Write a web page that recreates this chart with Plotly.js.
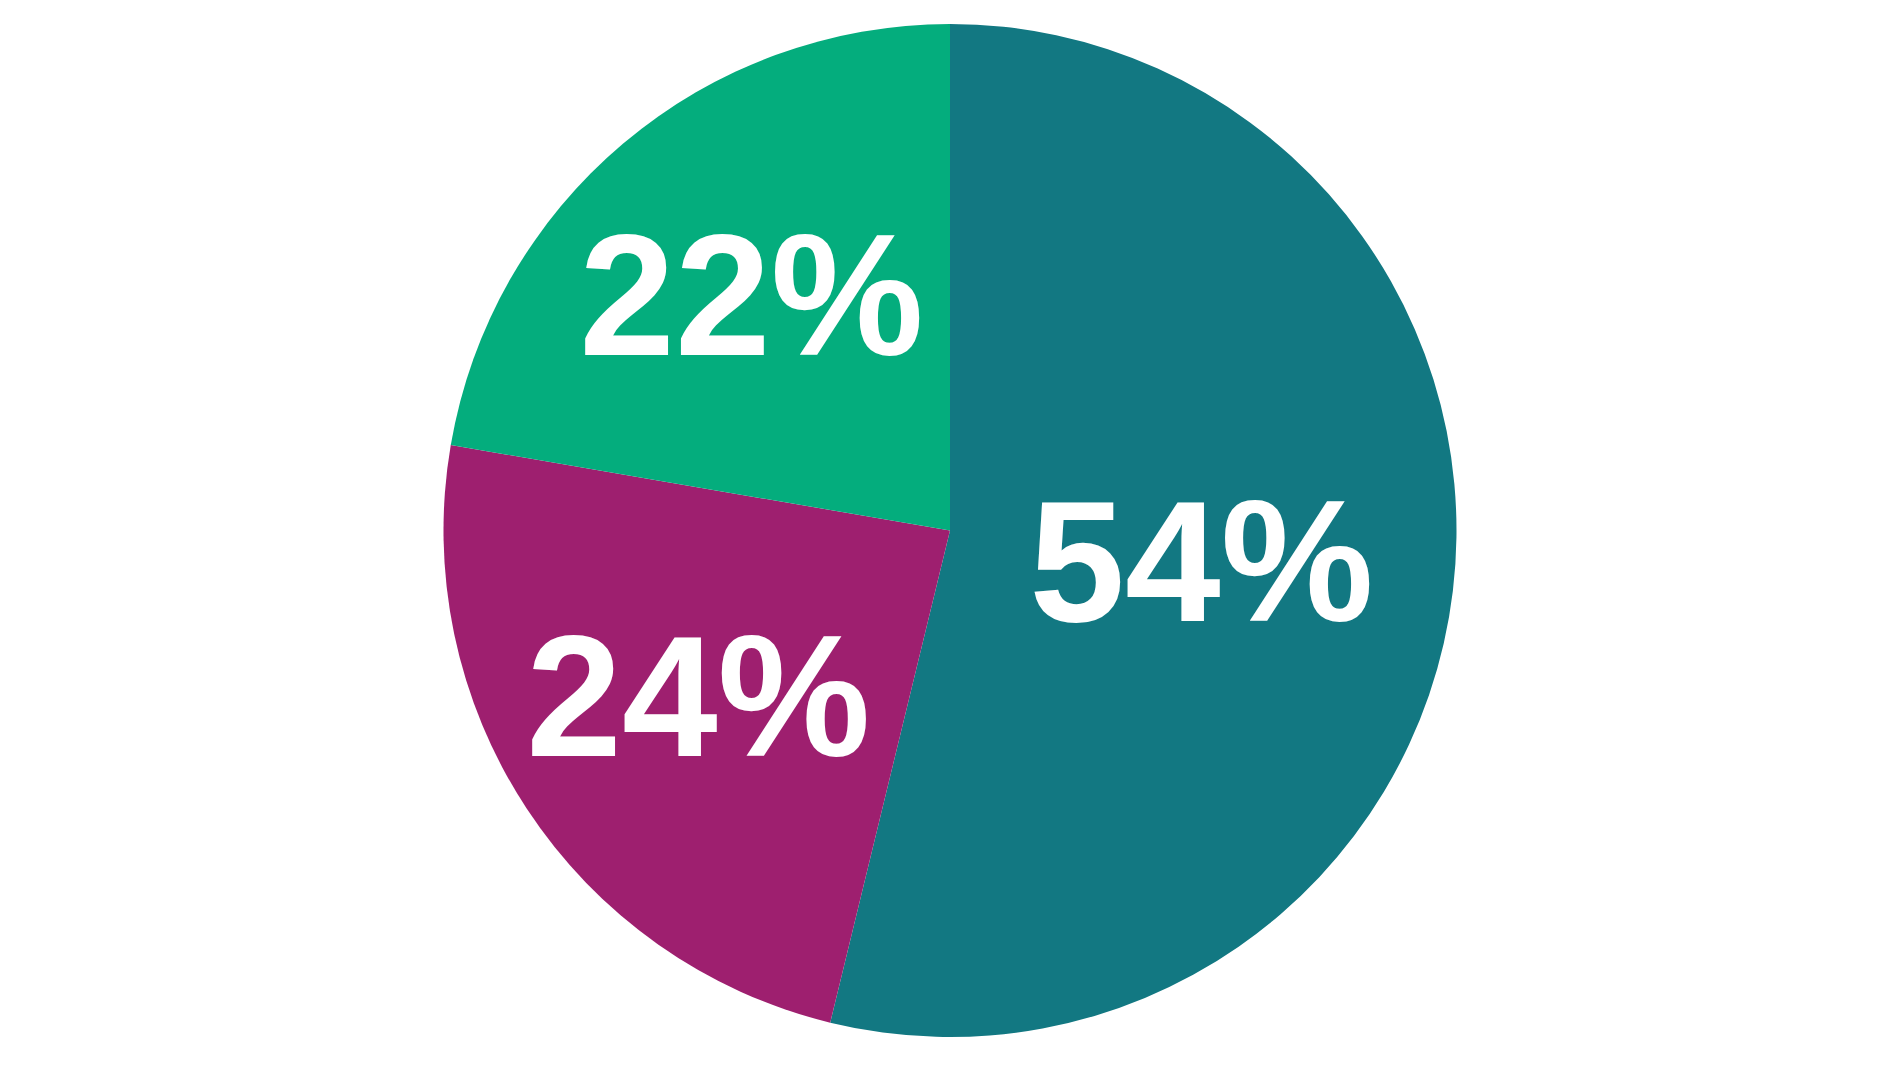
<!DOCTYPE html>
<html>
<head>
<meta charset="utf-8">
<script src="https://cdn.plot.ly/plotly-3.0.1.min.js"></script>
<style>
  html, body { margin: 0; padding: 0; background: #ffffff; }
  #graphe { width: 1900px; height: 1069px; }
</style>
</head>
<body>
<div id="graphe"></div>
<script>
let categories = ["A", "B", "C"]
let valeurs = [53.8, 23.9, 22.3]
let couleurs = ["#127882", "#9e1f6f", "#04ad7d"]

let div_graphe = document.getElementById("graphe")

let data = [{
    type: "pie",
    labels: categories,
    values: valeurs,
    sort: false,
    direction: "clockwise",
    rotation: 0,
    marker: {colors: couleurs, line: {width: 0}},
    texttemplate: "%{percent:.0%}",
    textposition: "inside",
    insidetextorientation: "horizontal",
    textfont: {family: "Liberation Sans, Arial, sans-serif", size: 172, color: "#ffffff", weight: "bold"},
    hoverinfo: "none",
    domain: {x: [0, 1], y: [32 / 1069, 1045 / 1069]}
}]

let layout = {
    width: 1900,
    height: 1069,
    showlegend: false,
    paper_bgcolor: "#ffffff",
    margin: {l: 0, r: 0, t: 0, b: 0, pad: 0}
}

Plotly.newPlot(div_graphe, data, layout, {staticPlot: true})
</script>
</body>
</html>
